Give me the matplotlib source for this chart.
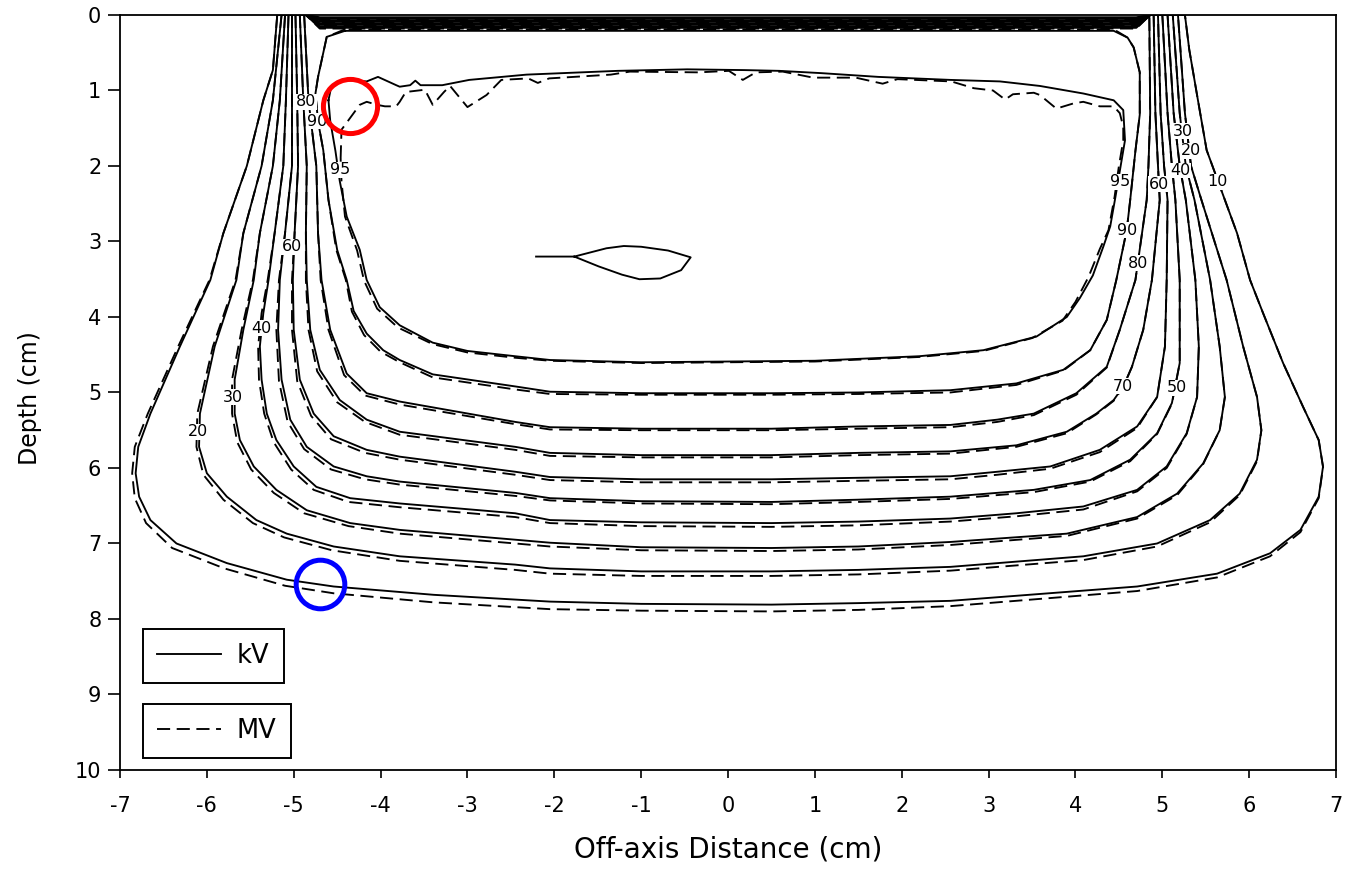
import matplotlib
matplotlib.use("Agg")
import matplotlib.pyplot as plt
from matplotlib.lines import Line2D

plt.rcParams["axes.unicode_minus"] = False

# ---------------- data (off-axis distance x [cm], depth d [cm]) ----------------
# kV isodose lines (solid); open U-shaped paths from left surface to right surface
KV10_X = [-5.19, -5.24, -5.35, -5.54, -5.81, -5.96, -6.31, -6.65, -6.79, -6.82, -6.78, -6.65, -6.35, -5.77, -5.08, -4.54, -3.39, -2.05, -1.00, 0.50, 1.50, 2.56, 4.71, 5.63, 6.24, 6.59, 6.80, 6.85, 6.80, 6.62, 6.39, 6.16, 6.01, 5.86, 5.72, 5.51, 5.41, 5.31, 5.26]
KV10_D = [0.00, 0.73, 1.13, 2.00, 2.89, 3.51, 4.39, 5.28, 5.72, 6.07, 6.38, 6.69, 7.00, 7.26, 7.48, 7.57, 7.68, 7.77, 7.80, 7.81, 7.79, 7.76, 7.57, 7.40, 7.13, 6.82, 6.38, 5.98, 5.63, 5.19, 4.61, 3.95, 3.51, 2.89, 2.45, 1.79, 1.13, 0.46, 0.00]
KV20_X = [-5.14, -5.24, -5.37, -5.58, -5.66, -5.91, -6.08, -6.09, -6.00, -5.77, -5.43, -5.08, -4.54, -3.78, -2.45, -2.05, -1.00, 0.50, 1.50, 2.56, 4.09, 4.94, 5.55, 5.89, 6.09, 6.14, 6.09, 5.93, 5.74, 5.45, 5.33, 5.26, 5.18]
KV20_D = [0.00, 1.13, 2.00, 2.89, 3.51, 4.39, 5.28, 5.72, 6.07, 6.38, 6.69, 6.87, 7.04, 7.17, 7.28, 7.33, 7.37, 7.37, 7.35, 7.31, 7.17, 7.00, 6.69, 6.34, 5.89, 5.50, 5.06, 4.39, 3.51, 2.45, 2.00, 1.30, 0.00]
KV30_X = [-5.10, -5.16, -5.24, -5.39, -5.46, -5.58, -5.68, -5.68, -5.62, -5.46, -5.20, -4.85, -4.35, -3.78, -2.45, -2.05, -1.00, 0.50, 1.50, 2.56, 3.90, 4.71, 5.17, 5.47, 5.66, 5.72, 5.66, 5.55, 5.37, 5.27, 5.20, 5.12]
KV30_D = [0.00, 1.13, 2.00, 2.89, 3.51, 4.17, 4.83, 5.28, 5.63, 5.98, 6.29, 6.56, 6.73, 6.82, 6.95, 6.99, 7.05, 7.06, 7.04, 6.98, 6.87, 6.65, 6.34, 5.94, 5.50, 5.06, 4.39, 3.51, 2.45, 2.00, 1.30, 0.00]
KV40_X = [-5.06, -5.09, -5.12, -5.22, -5.29, -5.35, -5.39, -5.37, -5.31, -5.20, -5.00, -4.74, -4.35, -3.78, -2.45, -2.05, -1.00, 0.50, 1.50, 2.56, 3.32, 4.09, 4.71, 5.05, 5.28, 5.40, 5.42, 5.38, 5.27, 5.20, 5.13, 5.06]
KV40_D = [0.00, 1.13, 2.00, 2.89, 3.51, 3.95, 4.39, 4.83, 5.28, 5.63, 5.98, 6.25, 6.40, 6.47, 6.60, 6.69, 6.72, 6.73, 6.71, 6.67, 6.60, 6.51, 6.29, 5.98, 5.54, 5.06, 4.39, 3.51, 2.45, 2.00, 1.30, 0.00]
KV50_X = [-5.02, -5.02, -5.02, -5.10, -5.16, -5.18, -5.14, -5.04, -4.85, -4.54, -4.16, -3.78, -2.45, -2.05, -1.00, 0.50, 1.50, 2.56, 3.52, 4.17, 4.63, 4.94, 5.11, 5.20, 5.20, 5.15, 5.11, 5.06, 5.00]
KV50_D = [0.00, 1.13, 2.00, 2.89, 3.51, 4.17, 4.83, 5.36, 5.72, 5.98, 6.11, 6.18, 6.33, 6.40, 6.44, 6.45, 6.42, 6.38, 6.29, 6.16, 5.89, 5.54, 5.14, 4.61, 3.51, 2.45, 2.00, 1.30, 0.00]
KV60_X = [-4.98, -4.96, -4.95, -4.99, -5.01, -5.00, -4.93, -4.77, -4.54, -4.16, -3.78, -2.45, -2.05, -1.00, 0.50, 1.50, 2.56, 3.10, 3.71, 4.28, 4.71, 4.94, 5.03, 5.05, 5.06, 5.02, 4.98, 4.95]
KV60_D = [0.00, 1.13, 2.00, 2.89, 3.51, 4.17, 4.83, 5.28, 5.58, 5.76, 5.85, 6.05, 6.12, 6.15, 6.15, 6.13, 6.11, 6.05, 5.98, 5.76, 5.45, 5.06, 4.39, 3.51, 2.45, 2.00, 1.30, 0.00]
KV70_X = [-4.93, -4.89, -4.85, -4.86, -4.85, -4.81, -4.70, -4.47, -4.16, -3.78, -2.45, -2.05, -1.00, 0.50, 1.50, 2.56, 3.32, 3.90, 4.24, 4.44, 4.55, 4.65, 4.78, 4.88, 4.97, 4.95, 4.92, 4.90]
KV70_D = [0.00, 1.13, 2.00, 2.89, 3.51, 4.17, 4.70, 5.10, 5.36, 5.52, 5.72, 5.80, 5.83, 5.83, 5.80, 5.78, 5.70, 5.52, 5.28, 5.10, 4.92, 4.66, 4.17, 3.51, 2.45, 2.00, 1.30, 0.00]
KV80_X = [-4.88, -4.83, -4.74, -4.72, -4.68, -4.58, -4.39, -4.16, -3.78, -2.45, -2.05, -1.00, 0.50, 1.50, 2.56, 3.10, 3.52, 4.01, 4.36, 4.51, 4.69, 4.82, 4.84, 4.86, 4.85]
KV80_D = [0.00, 1.13, 2.00, 2.89, 3.51, 4.17, 4.75, 5.01, 5.12, 5.39, 5.46, 5.48, 5.48, 5.45, 5.43, 5.36, 5.28, 5.01, 4.66, 4.17, 3.51, 2.45, 2.00, 1.30, 0.00]
# closed kV 90 and 95 lines
KV90_X = [-4.41, -4.62, -4.72, -4.75, -4.72, -4.66, -4.60, -4.50, -4.39, -4.31, -4.16, -3.97, -3.78, -3.40, -2.45, -2.05, -1.00, 0.50, 1.50, 2.56, 3.32, 3.86, 4.17, 4.36, 4.47, 4.59, 4.63, 4.69, 4.74, 4.74, 4.67, 4.60, 4.44, -4.41]
KV90_D = [0.21, 0.29, 0.82, 1.04, 1.41, 1.79, 2.45, 3.11, 3.51, 3.92, 4.22, 4.44, 4.57, 4.76, 4.92, 4.99, 5.01, 5.01, 5.00, 4.97, 4.88, 4.70, 4.44, 4.04, 3.51, 2.85, 2.45, 1.80, 1.32, 0.76, 0.43, 0.30, 0.21, 0.21]
KV95_X = [-4.60, -4.57, -4.42, -4.16, -4.03, -3.82, -3.78, -3.66, -3.60, -3.54, -3.29, -2.98, -2.32, -1.27, -0.47, 0.19, 0.59, 1.07, 1.73, 2.56, 3.13, 3.59, 4.09, 4.44, 4.55, 4.57, 4.52, 4.46, 4.40, 4.32, 4.20, 4.05, 3.90, 3.55, 2.94, 2.20, 1.00, 0.00, -1.00, -2.05, -2.45, -3.00, -3.40, -3.78, -4.01, -4.16, -4.24, -4.39, -4.47, -4.52, -4.58, -4.60]
KV95_D = [1.13, 0.96, 0.86, 0.88, 0.82, 0.93, 0.95, 0.93, 0.87, 0.93, 0.93, 0.86, 0.79, 0.74, 0.72, 0.73, 0.74, 0.77, 0.82, 0.86, 0.88, 0.94, 1.04, 1.13, 1.26, 1.66, 2.00, 2.41, 2.80, 3.07, 3.45, 3.75, 4.00, 4.26, 4.44, 4.52, 4.58, 4.59, 4.60, 4.57, 4.52, 4.45, 4.34, 4.11, 3.87, 3.51, 3.11, 2.67, 2.20, 1.80, 1.40, 1.13]
# small kV island
ISL_X = [-2.21, -1.77, -1.40, -1.20, -1.00, -0.69, -0.43, -0.54, -0.78, -1.02, -1.22, -1.49, -1.77]
ISL_D = [3.20, 3.20, 3.09, 3.06, 3.07, 3.12, 3.21, 3.38, 3.49, 3.50, 3.44, 3.33, 3.20]

# MV isodose lines (dashed)
MV10_X = [-5.19, -5.24, -5.35, -5.54, -5.81, -5.97, -6.33, -6.68, -6.83, -6.86, -6.83, -6.70, -6.40, -5.80, -5.10, -4.54, -3.39, -2.05, -1.00, 0.50, 1.50, 2.56, 4.71, 5.63, 6.24, 6.59, 6.80, 6.85, 6.80, 6.62, 6.39, 6.16, 6.01, 5.86, 5.72, 5.51, 5.41, 5.31, 5.26]
MV10_D = [0.00, 0.73, 1.13, 2.00, 2.89, 3.51, 4.39, 5.28, 5.72, 6.07, 6.40, 6.73, 7.06, 7.33, 7.56, 7.66, 7.78, 7.87, 7.89, 7.90, 7.88, 7.83, 7.63, 7.45, 7.17, 6.85, 6.40, 5.99, 5.63, 5.19, 4.61, 3.95, 3.51, 2.89, 2.45, 1.79, 1.13, 0.46, 0.00]
MV20_X = [-5.14, -5.24, -5.37, -5.58, -5.67, -5.93, -6.11, -6.12, -6.04, -5.81, -5.47, -5.11, -4.56, -3.78, -2.45, -2.05, -1.00, 0.50, 1.50, 2.56, 4.09, 4.94, 5.55, 5.89, 6.09, 6.14, 6.09, 5.93, 5.74, 5.45, 5.33, 5.26, 5.18]
MV20_D = [0.00, 1.13, 2.00, 2.89, 3.51, 4.39, 5.28, 5.72, 6.09, 6.42, 6.73, 6.92, 7.09, 7.23, 7.35, 7.40, 7.43, 7.43, 7.41, 7.36, 7.22, 7.04, 6.72, 6.36, 5.91, 5.50, 5.06, 4.39, 3.51, 2.45, 2.00, 1.30, 0.00]
MV30_X = [-5.10, -5.16, -5.24, -5.39, -5.47, -5.60, -5.71, -5.71, -5.65, -5.49, -5.23, -4.88, -4.37, -3.78, -2.45, -2.05, -1.00, 0.50, 1.50, 2.56, 3.90, 4.71, 5.17, 5.47, 5.66, 5.72, 5.66, 5.55, 5.37, 5.27, 5.20, 5.12]
MV30_D = [0.00, 1.13, 2.00, 2.89, 3.51, 4.17, 4.83, 5.28, 5.66, 6.02, 6.33, 6.60, 6.77, 6.87, 7.00, 7.04, 7.09, 7.10, 7.08, 7.02, 6.90, 6.67, 6.36, 5.95, 5.50, 5.06, 4.39, 3.51, 2.45, 2.00, 1.30, 0.00]
MV40_X = [-5.06, -5.09, -5.12, -5.22, -5.30, -5.37, -5.41, -5.40, -5.34, -5.23, -5.03, -4.77, -4.37, -3.78, -2.45, -2.05, -1.00, 0.50, 1.50, 2.56, 3.32, 4.09, 4.71, 5.05, 5.28, 5.40, 5.42, 5.38, 5.27, 5.20, 5.13, 5.06]
MV40_D = [0.00, 1.13, 2.00, 2.89, 3.51, 3.95, 4.39, 4.83, 5.28, 5.66, 6.02, 6.29, 6.45, 6.52, 6.65, 6.73, 6.77, 6.78, 6.76, 6.71, 6.64, 6.55, 6.31, 6.00, 5.55, 5.06, 4.39, 3.51, 2.45, 2.00, 1.30, 0.00]
MV50_X = [-5.02, -5.02, -5.02, -5.10, -5.17, -5.20, -5.17, -5.07, -4.88, -4.57, -4.18, -3.78, -2.45, -2.05, -1.00, 0.50, 1.50, 2.56, 3.52, 4.17, 4.63, 4.94, 5.11, 5.20, 5.20, 5.15, 5.11, 5.06, 5.00]
MV50_D = [0.00, 1.13, 2.00, 2.89, 3.51, 4.17, 4.85, 5.39, 5.75, 6.02, 6.15, 6.22, 6.37, 6.43, 6.47, 6.48, 6.45, 6.41, 6.32, 6.18, 5.91, 5.55, 5.15, 4.61, 3.51, 2.45, 2.00, 1.30, 0.00]
MV60_X = [-4.98, -4.96, -4.95, -4.99, -5.02, -5.02, -4.96, -4.80, -4.57, -4.18, -3.78, -2.45, -2.05, -1.00, 0.50, 1.50, 2.56, 3.10, 3.71, 4.28, 4.71, 4.94, 5.03, 5.05, 5.06, 5.02, 4.98, 4.95]
MV60_D = [0.00, 1.13, 2.00, 2.89, 3.51, 4.17, 4.85, 5.31, 5.62, 5.80, 5.89, 6.09, 6.16, 6.19, 6.19, 6.17, 6.15, 6.09, 6.01, 5.79, 5.47, 5.06, 4.39, 3.51, 2.45, 2.00, 1.30, 0.00]
MV70_X = [-4.93, -4.89, -4.85, -4.86, -4.86, -4.83, -4.73, -4.50, -4.18, -3.78, -2.45, -2.05, -1.00, 0.50, 1.50, 2.56, 3.32, 3.90, 4.24, 4.44, 4.55, 4.65, 4.78, 4.88, 4.97, 4.95, 4.92, 4.90]
MV70_D = [0.00, 1.13, 2.00, 2.89, 3.51, 4.17, 4.72, 5.13, 5.39, 5.56, 5.76, 5.84, 5.86, 5.86, 5.83, 5.81, 5.72, 5.54, 5.29, 5.11, 4.93, 4.66, 4.17, 3.51, 2.45, 2.00, 1.30, 0.00]
MV80_X = [-4.88, -4.83, -4.74, -4.72, -4.69, -4.60, -4.42, -4.18, -3.78, -2.45, -2.05, -1.00, 0.50, 1.50, 2.56, 3.10, 3.52, 4.01, 4.36, 4.51, 4.69, 4.82, 4.84, 4.86, 4.85]
MV80_D = [0.00, 1.13, 2.00, 2.89, 3.51, 4.17, 4.77, 5.04, 5.16, 5.42, 5.49, 5.50, 5.50, 5.48, 5.46, 5.39, 5.30, 5.03, 4.67, 4.17, 3.51, 2.45, 2.00, 1.30, 0.00]
MV90_X = [-4.41, -4.62, -4.72, -4.75, -4.72, -4.66, -4.60, -4.51, -4.40, -4.33, -4.19, -4.00, -3.78, -3.40, -2.45, -2.05, -1.00, 0.50, 1.50, 2.56, 3.32, 3.86, 4.17, 4.36, 4.47, 4.59, 4.63, 4.69, 4.74, 4.74, 4.67, 4.60, 4.44, -4.41]
MV90_D = [0.19, 0.29, 0.82, 1.04, 1.41, 1.79, 2.45, 3.11, 3.51, 3.93, 4.24, 4.46, 4.60, 4.80, 4.96, 5.02, 5.03, 5.03, 5.02, 5.00, 4.90, 4.71, 4.44, 4.04, 3.51, 2.85, 2.45, 1.80, 1.32, 0.76, 0.43, 0.30, 0.19, 0.19]
MV95_X = [-4.46, -4.45, -4.24, -4.16, -4.04, -3.95, -3.82, -3.78, -3.71, -3.49, -3.40, -3.27, -3.20, -3.00, -2.78, -2.61, -2.30, -2.19, -2.06, -1.35, -1.13, -0.34, 0.01, 0.17, 0.32, 0.63, 0.98, 1.47, 1.78, 1.95, 2.57, 2.83, 3.05, 3.19, 3.28, 3.52, 3.59, 3.78, 3.98, 4.09, 4.28, 4.44, 4.51, 4.55, 4.55, 4.50, 4.45, 4.38, 4.28, 4.15, 4.00, 3.85, 3.50, 2.94, 2.20, 1.00, 0.00, -1.00, -2.05, -2.45, -3.00, -3.40, -3.80, -4.04, -4.19, -4.27, -4.41, -4.45, -4.46]
MV95_D = [1.90, 1.52, 1.19, 1.15, 1.19, 1.21, 1.21, 1.15, 1.02, 0.99, 1.19, 1.02, 0.94, 1.22, 1.06, 0.86, 0.84, 0.90, 0.84, 0.79, 0.75, 0.76, 0.74, 0.86, 0.76, 0.75, 0.83, 0.83, 0.91, 0.85, 0.88, 0.97, 1.00, 1.12, 1.05, 1.03, 1.06, 1.24, 1.17, 1.15, 1.21, 1.21, 1.30, 1.48, 1.66, 2.00, 2.41, 2.85, 3.10, 3.47, 3.80, 4.05, 4.28, 4.45, 4.53, 4.59, 4.60, 4.61, 4.58, 4.54, 4.47, 4.36, 4.14, 3.89, 3.52, 3.12, 2.67, 2.20, 1.90]

# near-surface crossing of the 10..80 % lines (depth of the horizontal run, cm)
BAND_KV = [0.03, 0.05, 0.07, 0.09, 0.11, 0.13, 0.15, 0.17]
BAND_MV = [0.04, 0.06, 0.08, 0.10, 0.12, 0.14, 0.16, 0.18]
BAND_END_X = [4.86, 4.70, -4.70, -4.86]

# contour labels
LABEL_TEXT = ["80", "90", "95", "60", "40", "30", "20",
              "30", "20", "40", "10", "60", "95", "90", "80", "70", "50"]
LABEL_X = [-4.86, -4.73, -4.47, -5.02, -5.37, -5.70, -6.10,
           5.24, 5.33, 5.21, 5.63, 4.96, 4.51, 4.59, 4.72, 4.55, 5.17]
LABEL_D = [1.15, 1.41, 2.05, 3.07, 4.15, 5.06, 5.52,
           1.54, 1.80, 2.06, 2.21, 2.24, 2.21, 2.85, 3.29, 4.92, 4.94]

# highlight circles
MARK_X = [-4.35, -4.70]
MARK_D = [1.21, 7.54]
MARK_COLOR = ["#ff0000", "#0000ff"]

X_TICKS = list(range(-7, 8))
D_TICKS = list(range(0, 11))

# ---------------- figure ----------------
fig = plt.figure(figsize=(13.56, 8.71), dpi=100)
ax = fig.add_axes([0.0885, 0.1160, 0.8968, 0.8668])

LW = 1.35
DASH = (0, (7, 3.5))

kv_open = [(KV10_X, KV10_D), (KV20_X, KV20_D), (KV30_X, KV30_D), (KV40_X, KV40_D),
           (KV50_X, KV50_D), (KV60_X, KV60_D), (KV70_X, KV70_D), (KV80_X, KV80_D)]
mv_open = [(MV10_X, MV10_D), (MV20_X, MV20_D), (MV30_X, MV30_D), (MV40_X, MV40_D),
           (MV50_X, MV50_D), (MV60_X, MV60_D), (MV70_X, MV70_D), (MV80_X, MV80_D)]


def close_path(xs, ds, b):
    px = list(xs) + BAND_END_X + [xs[0]]
    pd = list(ds) + [0.0, b, b, 0.0, ds[0]]
    return px, pd


for (xs, ds), b in zip(mv_open, BAND_MV):
    px, pd = close_path(xs, ds, b)
    ax.plot(px, pd, color="black", lw=LW, ls=DASH, zorder=2)
for (xs, ds), b in zip(kv_open, BAND_KV):
    px, pd = close_path(xs, ds, b)
    ax.plot(px, pd, color="black", lw=LW, ls="-", zorder=2)

ax.plot(MV90_X, MV90_D, color="black", lw=LW, ls=DASH, zorder=2)
ax.plot(MV95_X, MV95_D, color="black", lw=LW, ls=DASH, zorder=2)
ax.plot(KV90_X, KV90_D, color="black", lw=LW, ls="-", zorder=2)
ax.plot(KV95_X, KV95_D, color="black", lw=LW, ls="-", zorder=2)
ax.plot(ISL_X, ISL_D, color="black", lw=LW, ls="-", zorder=2)

for t, x, d in zip(LABEL_TEXT, LABEL_X, LABEL_D):
    ax.text(x, d, t, fontsize=11.5, ha="center", va="center", zorder=4,
            bbox=dict(facecolor="white", edgecolor="none", pad=0.3))

for x, d, c, s in zip(MARK_X, MARK_D, MARK_COLOR, [39, 35]):
    ax.plot([x], [d], marker="o", markersize=s, markerfacecolor="none",
            markeredgecolor=c, markeredgewidth=3.6, ls="none", zorder=6)

ax.set_xlim(-7, 7)
ax.set_ylim(10, 0)
ax.set_xticks(X_TICKS)
ax.set_yticks(D_TICKS)
ax.tick_params(direction="out", labelsize=15, width=1.2, colors="black")
ax.tick_params(axis="x", length=5.5, pad=13)
ax.tick_params(axis="y", length=8.5, pad=5)
for sp in ax.spines.values():
    sp.set_linewidth(1.3)

ax.set_xlabel("Off-axis Distance (cm)", fontsize=20)
ax.set_ylabel("Depth (cm)", fontsize=17)
ax.xaxis.set_label_coords(0.5, -0.0874)
ax.yaxis.set_label_coords(-0.0641, 0.4927)

leg_kw = dict(loc="lower left", borderaxespad=0, fontsize=18.5, handlelength=2.5,
              handletextpad=0.6, borderpad=0.55, fancybox=False, edgecolor="black",
              framealpha=1)
leg1 = ax.legend(handles=[Line2D([], [], color="black", lw=LW)], labels=["kV"],
                 bbox_to_anchor=(0.0189, 0.1152), **leg_kw)
leg1.get_frame().set_linewidth(1.4)
ax.add_artist(leg1)
leg2 = ax.legend(handles=[Line2D([], [], color="black", lw=LW, ls=DASH)], labels=["MV"],
                 bbox_to_anchor=(0.0189, 0.0159), **leg_kw)
leg2.get_frame().set_linewidth(1.4)
leg1.set_zorder(7)
leg2.set_zorder(7)

fig.savefig("out.png", dpi=100)
